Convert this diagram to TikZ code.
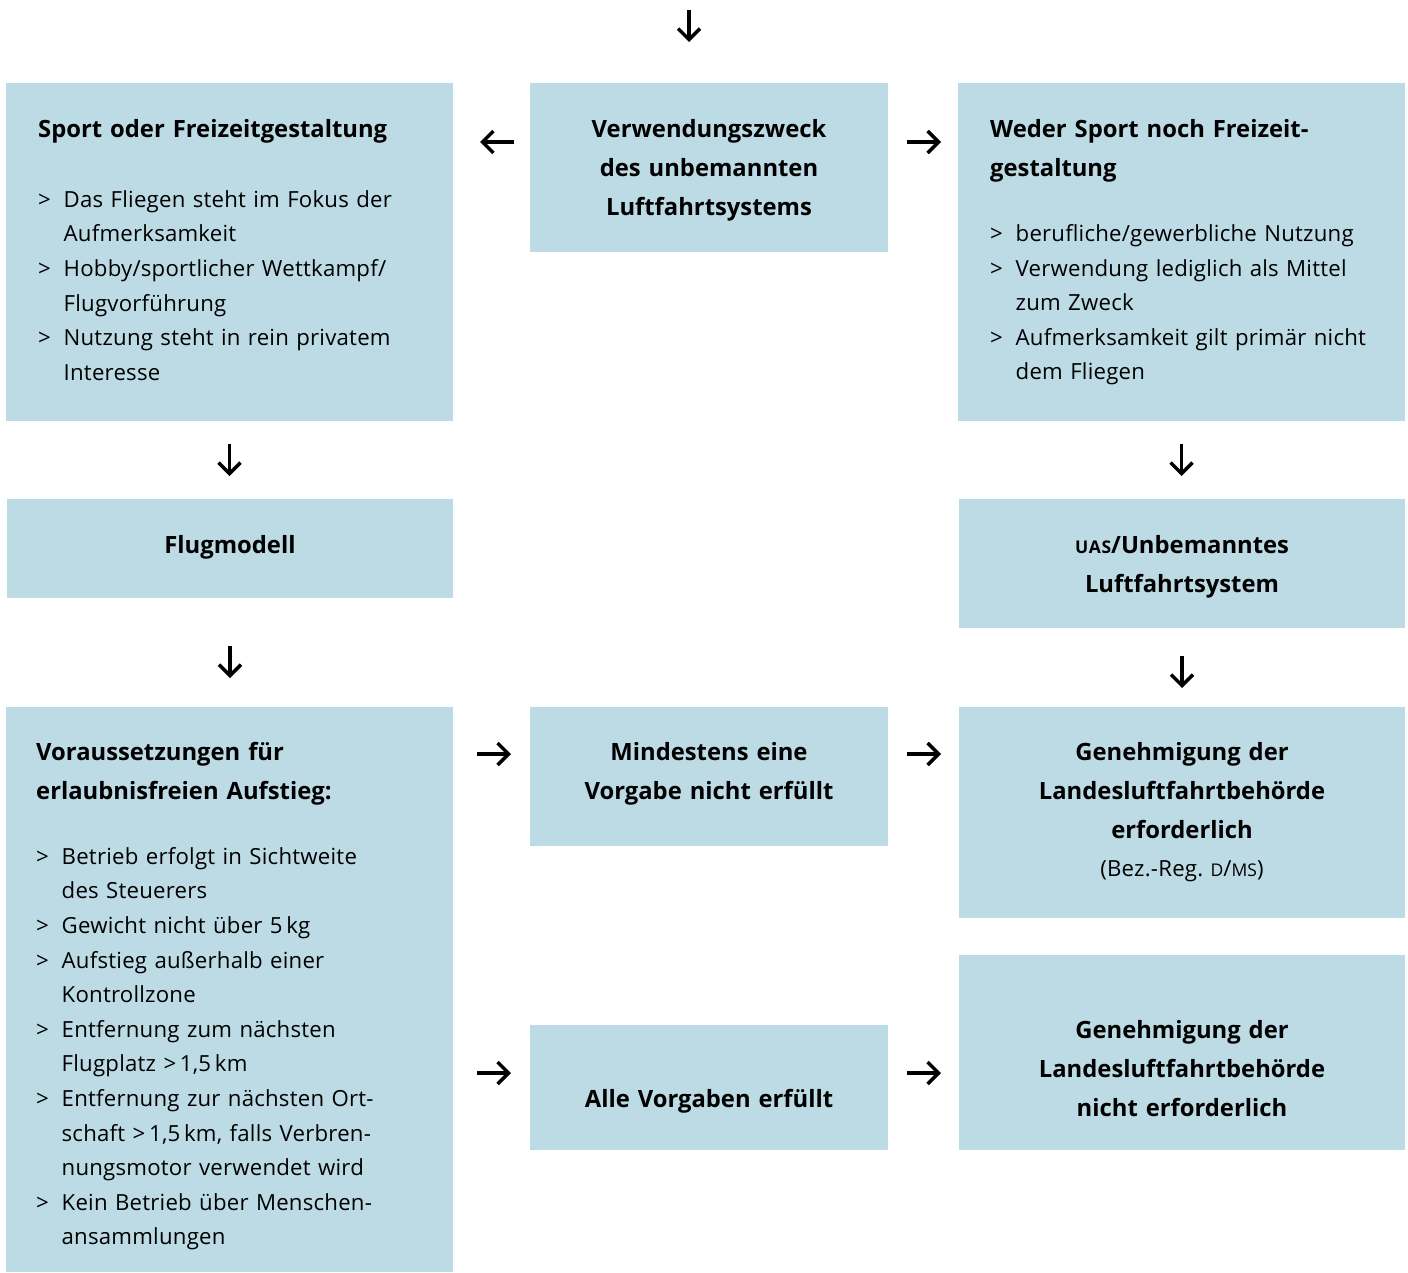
\documentclass[tikz,border=0pt]{standalone}
\usepackage{fontspec}
\setmainfont{Open Sans}
\newfontfamily\regfam[LetterSpace=1.0,WordSpace=1.25]{Open Sans}
\newfontfamily\boldfam[WordSpace=1.3]{Open Sans}
\usetikzlibrary{arrows.meta}
\definecolor{boxblue}{RGB}{188,219,228}
\newcommand\regfont{\regfam\mdseries\fontsize{22.2}{34.6}\selectfont}
\newcommand\boldfont{\boldfam\bfseries\fontsize{23.8}{39}\selectfont}
\newcommand\itm[1]{\hangindent=25.5pt\hangafter=1\noindent\strut\makebox[25.5pt][l]{>}#1\strut\par}
\newcommand\smc[1]{{\fontsize{17.5}{17.5}\selectfont #1}}
\newcommand\smcs[1]{{\fontsize{17.5}{17.5}\selectfont\addfontfeatures{LetterSpace=4}#1}}
\tikzset{
  box/.style={fill=boxblue, draw=none, anchor=north west, inner sep=0pt, outer sep=0pt},
  ltxt/.style={anchor=north west, inner sep=0pt, text width=420pt, align=left},
  ctxt/.style={anchor=north, inner sep=0pt, align=center, font=\boldfont},
  arr/.style={line width=3.5pt, -{Straight Barb[length=11pt,width=22pt,line width=3.5pt]}}
}
\begin{document}
\begin{tikzpicture}[x=1pt,y=-1pt]
\useasboundingbox (0,0) rectangle (1408,1272);
% boxes
\node[box, minimum width=447pt, minimum height=338pt] (A) at (6,83) {};
\node[box, minimum width=358pt, minimum height=169pt] (B) at (530,83) {};
\node[box, minimum width=447pt, minimum height=338pt] (C) at (958,83) {};
\node[box, minimum width=446pt, minimum height=99pt] (D) at (7,499) {};
\node[box, minimum width=446pt, minimum height=129pt] (E) at (959,499) {};
\node[box, minimum width=447pt, minimum height=565pt] (F) at (6,707) {};
\node[box, minimum width=358pt, minimum height=139pt] (G) at (530,707) {};
\node[box, minimum width=446pt, minimum height=211pt] (H) at (959,707) {};
\node[box, minimum width=358pt, minimum height=125pt] (I) at (530,1025) {};
\node[box, minimum width=446pt, minimum height=195pt] (J) at (959,955) {};
% texts
\node[ltxt, font=\boldfont] (At) at (38,109.7) {\strut Sport oder Freizeitgestaltung};
\node[ltxt, font=\regfont] (Al) at (38,182.8) {%
\itm{Das Fliegen steht im Fokus der\newline Aufmerksamkeit}%
\itm{Hobby/sportlicher Wettkampf/\newline Flugvorführung}%
\itm{Nutzung steht in rein privatem\newline Interesse}};
\node[ctxt, text width=358pt] (Bt) at (709,109.7) {\strut Verwendungszweck\\des unbemannten\\Luftfahrtsystems};
\node[ltxt, font=\boldfont] (Ct) at (990,109.7) {\strut Weder Sport noch Freizeit-\\gestaltung};
\node[ltxt, font=\regfont] (Cl) at (990,217.1) {%
\itm{berufliche/gewerbliche Nutzung}%
\itm{Verwendung lediglich als Mittel\newline zum Zweck}%
\itm{Aufmerksamkeit gilt primär nicht\newline dem Fliegen}};
\node[ctxt, text width=446pt] (Dt) at (230,525.7) {\strut Flugmodell};
\node[ctxt, text width=446pt] (Et) at (1182,525.7) {\strut \smcs{UAS}/Unbemanntes\\Luftfahrtsystem};
\node[ltxt, font=\boldfont] (Ft) at (36,732.7) {\strut Voraussetzungen für\\erlaubnisfreien Aufstieg:};
\node[ltxt, font=\regfont] (Fl) at (36,839.8) {%
\itm{Betrieb erfolgt in Sichtweite\newline des Steuerers}%
\itm{Gewicht nicht über 5\,kg}%
\itm{Aufstieg außerhalb einer\newline Kontrollzone}%
\itm{Entfernung zum nächsten\newline Flugplatz >\,1,5\,km}%
\itm{Entfernung zur nächsten Ort-\newline schaft >\,1,5\,km, falls Verbren-\newline nungsmotor verwendet wird}%
\itm{Kein Betrieb über Menschen-\newline ansammlungen}};
\node[ctxt, text width=358pt] (Gt) at (709,732.7) {\strut Mindestens eine\\Vorgabe nicht erfüllt};
\node[ctxt, text width=446pt] (Ht) at (1182,732.7) {\strut Genehmigung der\\Landesluftfahrtbehörde\\erforderlich};
\node[ctxt, text width=446pt, font=\regfont] (Hr) at (1182,851.8) {\strut (Bez.-Reg.\ \smc{D}/\smc{MS})};
\node[ctxt, text width=358pt] (It) at (709,1079.7) {\strut Alle Vorgaben erfüllt};
\node[ctxt, text width=446pt] (Jt) at (1182,1010.7) {\strut Genehmigung der\\Landesluftfahrtbehörde\\nicht erforderlich};
% arrows
\coordinate (top) at (689,10);
\draw[arr, shorten >=41pt] (top) -- (top |- B.north);
\path ([yshift=25.5pt]B.west) coordinate (bl) ([yshift=25.5pt]B.east) coordinate (br);
\draw[arr, shorten <=16pt, shorten >=27pt] (bl) -- (bl -| A.east);
\draw[arr, shorten <=19pt, shorten >=17pt] (br) -- (br -| C.west);
\draw[arr, shorten <=23pt, shorten >=23pt] (A.south) -- (A.south |- D.north);
\draw[arr, shorten <=23pt, shorten >=23pt] (C.south) -- (C.south |- E.north);
\draw[arr, shorten <=48pt, shorten >=29pt] (D.south) -- (D.south |- F.north);
\draw[arr, shorten <=28pt, shorten >=19pt] (E.south) -- (E.south |- H.north);
\path ([yshift=22.5pt]G.west) coordinate (gl) ([yshift=22.5pt]G.east) coordinate (gr);
\draw[arr, shorten <=24pt, shorten >=19pt] (gl -| F.east) -- (gl);
\draw[arr, shorten <=19pt, shorten >=18pt] (gr) -- (gr -| H.west);
\path ([yshift=14.5pt]I.west) coordinate (il) ([yshift=14.5pt]I.east) coordinate (ir);
\draw[arr, shorten <=24pt, shorten >=19pt] (il -| F.east) -- (il);
\draw[arr, shorten <=19pt, shorten >=18pt] (ir) -- (ir -| J.west);
\end{tikzpicture}
\end{document}
